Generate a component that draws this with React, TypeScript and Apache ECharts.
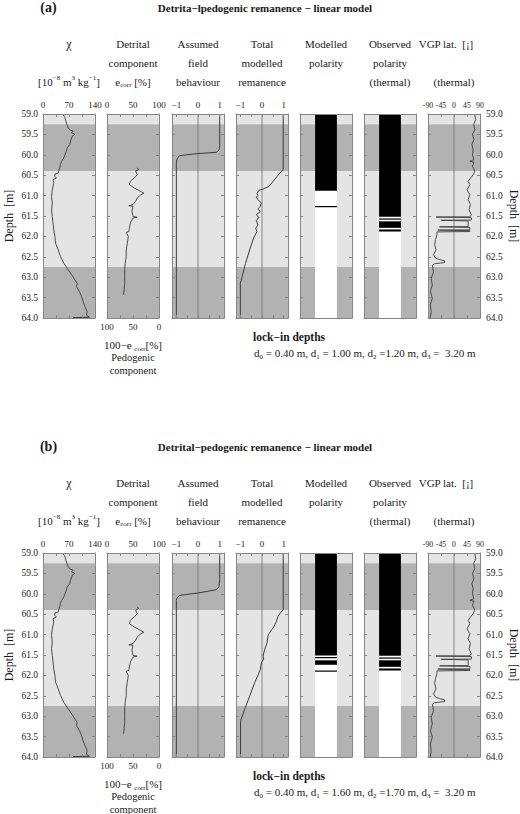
import { useEffect, useRef } from "react";
import * as echarts from "echarts";

// ── Data: profiles are [value, depth (m)] pairs ──────────────────────────────
const CHI = [
  [54, 59.01], [59, 59.09], [63, 59.22], [68, 59.34], [74, 59.4], [81, 59.42], [77, 59.46],
  [86, 59.5], [79, 59.54], [77, 59.59], [74, 59.67], [72, 59.75], [65, 59.83], [63, 59.91],
  [59, 60.0], [56, 60.08], [50, 60.16], [47, 60.24], [45, 60.32], [42, 60.4], [41, 60.45],
  [32, 60.47], [32, 60.53], [36, 60.57], [27, 60.61], [29, 60.69], [25, 60.86], [23, 61.02],
  [25, 61.18], [23, 61.35], [25, 61.51], [27, 61.67], [29, 61.84], [32, 62.0], [34, 62.17],
  [41, 62.33], [47, 62.49], [56, 62.66], [68, 62.82], [77, 62.94], [86, 63.07], [92, 63.15],
  [90, 63.23], [98, 63.35], [104, 63.48], [108, 63.6], [113, 63.72], [119, 63.85], [117, 63.93],
  [125, 63.98], [81, 63.99], [125, 64.0],
];

const DETRITAL = [
  [58, 60.32], [61, 60.36], [55, 60.4], [58, 60.49], [52, 60.57], [45, 60.65], [43, 60.73],
  [52, 60.81], [65, 60.9], [71, 60.94], [65, 60.98], [58, 61.06], [55, 61.14], [50, 61.22],
  [42, 61.25], [50, 61.26], [48, 61.39], [50, 61.51], [58, 61.53], [50, 61.55], [45, 61.67],
  [43, 61.8], [42, 61.88], [37, 61.9], [41, 62.0], [39, 62.17], [37, 62.33], [37, 62.49],
  [35, 62.66], [34, 62.82], [34, 62.98], [34, 63.15], [33, 63.31], [32, 63.43],
];

const FIELD_A = [
  [1, 59.0], [1, 59.78], [0.97, 59.88], [0.85, 59.94], [0, 59.97], [-0.85, 60.02],
  [-0.97, 60.1], [-1, 60.2], [-1, 64.0],
];
const FIELD_B = [
  [1, 59.0], [1, 59.65], [0.97, 59.82], [0.85, 59.9], [0, 59.98], [-0.85, 60.04],
  [-0.97, 60.1], [-1, 60.16], [-1, 64.0],
];

const TOTAL_A = [
  [0.98, 59.0], [0.98, 60.36], [0.9, 60.4], [0.82, 60.45], [0.7, 60.53], [0.51, 60.65],
  [0.39, 60.73], [0.33, 60.77], [0.05, 60.84], [-0.14, 60.87], [-0.23, 60.94], [-0.19, 61.0],
  [-0.26, 61.04], [-0.19, 61.1], [-0.03, 61.18], [-0.08, 61.26], [-0.19, 61.33], [-0.08, 61.39],
  [-0.26, 61.47], [-0.14, 61.53], [-0.26, 61.61], [-0.19, 61.72], [-0.29, 61.8], [-0.23, 61.88],
  [-0.29, 61.94], [-0.39, 62.04], [-0.57, 62.33], [-0.76, 62.66], [-0.91, 62.98], [-1.0, 63.15],
  [-1.0, 64.0],
];
const TOTAL_B = [
  [0.98, 59.0], [0.98, 60.39], [0.85, 60.47], [0.74, 60.55], [0.67, 60.67], [0.6, 60.75],
  [0.51, 60.84], [0.39, 60.92], [0.3, 61.0], [0.28, 61.04], [0.23, 61.2], [0.18, 61.28],
  [0.12, 61.37], [0.05, 61.53], [0.08, 61.6], [-0.03, 61.69], [-0.08, 61.85], [-0.14, 61.94],
  [-0.34, 62.18], [-0.57, 62.51], [-0.8, 62.83], [-0.99, 63.12], [-0.99, 64.0],
];

const VGP = [
  [72, 59.01], [75, 59.14], [68, 59.26], [72, 59.38], [64, 59.5], [69, 59.63], [62, 59.75],
  [66, 59.87], [64, 60.0], [69, 60.12], [55, 60.16], [69, 60.18], [64, 60.28], [72, 60.4],
  [66, 60.49], [57, 60.57], [49, 60.65], [55, 60.73], [45, 60.86], [55, 60.98], [49, 61.1],
  [57, 61.22], [52, 61.35], [60, 61.47], [55, 61.52], [-62, 61.525], [-62, 61.535], [60, 61.54],
  [60, 61.6], [-44, 61.605], [-44, 61.615], [49, 61.62], [49, 61.76], [-50, 61.765],
  [-50, 61.775], [55, 61.78], [55, 61.84], [-56, 61.845], [-56, 61.855], [55, 61.86],
  [55, 61.88], [-59, 61.89], [-59, 61.96], [-64, 62.08], [-67, 62.2], [-62, 62.33],
  [-71, 62.45], [-64, 62.53], [-50, 62.57], [-32, 62.6], [-32, 62.64], [-67, 62.67],
  [-75, 62.71], [-71, 62.87], [-79, 63.03], [-75, 63.19], [-82, 63.35], [-75, 63.51],
  [-82, 63.68], [-79, 63.84], [-82, 64.0],
];

// normal-polarity intervals [top, bottom] in m
const OBSERVED_NORMAL = [[59.0, 61.52], [61.56, 61.59], [61.63, 61.79], [61.83, 61.88]];
const MODELLED_NORMAL_A = [[59.0, 60.88], [61.255, 61.285]];
const MODELLED_NORMAL_B = [[59.0, 61.51], [61.55, 61.58], [61.63, 61.74], [61.88, 61.91]];
const FULL_DEPTH = [[59.0, 64.0]];

// stratigraphic units [top, bottom, shade 0 light / 1 dark]
const BANDS = [[59.0, 59.25, 0], [59.25, 60.4, 1], [60.4, 62.75, 0], [62.75, 64.0, 1]];
const ZERO_LINE = [[0, 59.0], [0, 64.0]];

const LOCK_IN_A = ["0.40", "1.00", "1.20", "3.20"];
const LOCK_IN_B = ["0.40", "1.60", "1.70", "3.20"];

// ── Layout / style ────────────────────────────────────────────────────────────
const FONT = "'Liberation Serif', 'DejaVu Serif', serif";
const BAND_COLORS = ["#e4e4e4", "#b2b2b2"];
const FRAME = "#858585";
const INK = "#1a1a1a";
const CURVE = "#3c3c3c";
const COL_LEFT = [43, 107, 172, 236, 300, 364, 428];
const COL_W = 52;
const PLOT_H = 204;
const SHIFT = 439;

// sign: minus glyph for the tick labels (VGP uses the narrower hyphen, labels are tight)
const COLS = [
  { min: 0, max: 140, ticks: [0, 35, 70, 105, 140], labels: [0, 70, 140], fs: 9, sign: "\u2212" },
  { min: 0, max: 100, ticks: [0, 25, 50, 75, 100], labels: [0, 50, 100], fs: 9, sign: "\u2212" },
  { min: -1.2, max: 1.2, ticks: [-1, -0.5, 0, 0.5, 1], labels: [-1, 0, 1], fs: 9, sign: "\u2212" },
  { min: -1.2, max: 1.2, ticks: [-1, -0.5, 0, 0.5, 1], labels: [-1, 0, 1], fs: 9, sign: "\u2212" },
  { min: 0, max: 1, ticks: null, labels: null, fs: 9, sign: "\u2212" },
  { min: 0, max: 1, ticks: null, labels: null, fs: 9, sign: "\u2212" },
  { min: -90, max: 90, ticks: [-90, -45, 0, 45, 90], labels: [-90, -45, 0, 45, 90], fs: 7.8, sign: "-" },
];

const RICH = {
  a: { fontSize: 11, fontFamily: FONT, fill: INK, lineHeight: 14 },
  sup: { fontSize: 7, fontFamily: FONT, fill: INK, verticalAlign: "top" },
  sub: { fontSize: 7, fontFamily: FONT, fill: INK, verticalAlign: "bottom" },
};

function txt(x: number, y: number, text: string, extra: any = {}) {
  return {
    type: "text",
    x,
    y,
    rotation: extra.rotation ?? 0,
    silent: true,
    style: {
      text,
      fontSize: extra.fontSize ?? 11,
      fontWeight: extra.fontWeight ?? "normal",
      fontFamily: FONT,
      fill: INK,
      align: extra.align ?? "center",
      verticalAlign: "middle",
      rich: extra.rich ? RICH : undefined,
    },
  };
}

function rectSeries(xi: number, data: number[][], x0: number, x1: number, fill: string | null, z: number) {
  return {
    type: "custom",
    xAxisIndex: xi,
    yAxisIndex: xi,
    silent: true,
    z,
    data,
    renderItem: (_p: any, api: any) => {
      const a = api.coord([x0, api.value(0)]);
      const b = api.coord([x1, api.value(1)]);
      return {
        type: "rect",
        shape: { x: a[0], y: a[1], width: b[0] - a[0], height: b[1] - a[1] },
        style: { fill: fill ?? BAND_COLORS[api.value(2)] },
      };
    },
  };
}

function lineSeries(xi: number, data: number[][], color: string, width: number, z: number) {
  return {
    type: "line",
    xAxisIndex: xi,
    yAxisIndex: xi,
    data,
    showSymbol: false,
    symbol: "none",
    silent: true,
    z,
    lineStyle: { color, width },
  };
}

function buildOption() {
  const grid: any[] = [];
  const xAxis: any[] = [];
  const yAxis: any[] = [];
  const series: any[] = [];
  const graphic: any[] = [];

  const panels = [
    { tag: "(a)", title: "Detrita\u2212lpedogenic remanence \u2212 linear model", field: FIELD_A, total: TOTAL_A, modelled: MODELLED_NORMAL_A, lock: LOCK_IN_A },
    { tag: "(b)", title: "Detrital\u2212pedogenic remanence \u2212 linear model", field: FIELD_B, total: TOTAL_B, modelled: MODELLED_NORMAL_B, lock: LOCK_IN_B },
  ];

  panels.forEach((panel, p) => {
    const dy = p * SHIFT;
    const top = 114 + dy;
    COLS.forEach((col, c) => {
      const gi = p * 7 + c;
      const xi = gi * 2;
      grid.push({ left: COL_LEFT[c], top, width: COL_W, height: PLOT_H });
      // onZero off: frames stay on the plot edges
      const line = { show: true, onZero: false, lineStyle: { color: FRAME, width: 1 } };
      const tick = (vals: number[] | null) => ({
        show: !!vals, inside: true, length: 3, customValues: vals ?? undefined,
        lineStyle: { color: FRAME, width: 1 },
      });
      xAxis.push({
        gridIndex: gi, type: "value", position: "top", min: col.min, max: col.max, z: 10,
        axisLine: line, axisTick: tick(col.ticks), splitLine: { show: false },
        axisLabel: {
          show: !!col.labels, customValues: col.labels ?? undefined, margin: 5,
          showMinLabel: true, showMaxLabel: true, hideOverlap: false,
          fontSize: col.fs, fontFamily: FONT, color: INK,
          formatter: (v: number) => (v < 0 ? col.sign + Math.abs(v) : String(v)),
        },
      });
      xAxis.push({
        gridIndex: gi, type: "value", position: "bottom", min: col.min, max: col.max, z: 10,
        axisLine: line, axisTick: tick(col.ticks), splitLine: { show: false },
        axisLabel: {
          show: c === 1, customValues: c === 1 ? col.labels : undefined, margin: 4,
          showMinLabel: true, showMaxLabel: true,
          fontSize: 9, fontFamily: FONT, color: INK, formatter: (v: number) => String(100 - v),
        },
      });
      const yBase = {
        gridIndex: gi, type: "value", inverse: true, min: 59, max: 64, interval: 0.5, z: 10,
        axisLine: line, splitLine: { show: false },
        axisTick: { show: true, inside: true, length: 3, lineStyle: { color: FRAME, width: 1 } },
      };
      yAxis.push({
        ...yBase, position: "left",
        axisLabel: {
          show: c === 0, margin: 5, fontSize: 9.5, fontFamily: FONT, color: INK,
          showMinLabel: true, showMaxLabel: true, formatter: (v: number) => v.toFixed(1),
        },
      });
      yAxis.push({
        ...yBase, position: "right",
        axisLabel: {
          show: c === 6, margin: 6, fontSize: 9.5, fontFamily: FONT, color: INK,
          showMinLabel: true, showMaxLabel: true, formatter: (v: number) => v.toFixed(1),
        },
      });

      series.push(rectSeries(xi, BANDS, col.min, col.max, null, 1));
      if (c === 0) series.push(lineSeries(xi, CHI, CURVE, 0.9, 4));
      if (c === 1) series.push(lineSeries(xi, DETRITAL, CURVE, 0.9, 4));
      if (c === 2) {
        series.push(lineSeries(xi, ZERO_LINE, "#707070", 0.8, 3));
        series.push(lineSeries(xi, panel.field, CURVE, 1, 4));
      }
      if (c === 3) {
        series.push(lineSeries(xi, ZERO_LINE, "#707070", 0.8, 3));
        series.push(lineSeries(xi, panel.total, CURVE, 1, 4));
      }
      if (c === 4 || c === 5) {
        series.push(rectSeries(xi, FULL_DEPTH, 0.29, 0.71, "#ffffff", 2));
        series.push(rectSeries(xi, c === 4 ? panel.modelled : OBSERVED_NORMAL, 0.29, 0.71, "#000000", 3));
      }
      if (c === 6) {
        series.push(lineSeries(xi, ZERO_LINE, "#707070", 0.8, 3));
        series.push(lineSeries(xi, VGP, CURVE, 0.9, 4));
      }
    });

    // titles & headers
    graphic.push(txt(48.5, 7.5 + dy, panel.tag, { fontSize: 14, fontWeight: "bold" }));
    graphic.push(txt(265, 7.5 + dy, panel.title, { fontSize: 11, fontWeight: "bold" }));
    const r1 = 43.5 + dy, r2 = 62.5 + dy, r3 = 81.5 + dy;
    const cx = COL_LEFT.map((l) => l + COL_W / 2);
    graphic.push(txt(cx[0], r1, "\u03c7", { fontSize: 12 }));
    graphic.push(txt(cx[0], r3, "{a|[10}{sup|\u22128}{a| m}{sup|3}{a| kg}{sup|\u22121}{a|]}", { rich: true }));
    graphic.push(txt(cx[1], r1, "Detrital"));
    graphic.push(txt(cx[1], r2, "component"));
    graphic.push(txt(cx[1], r3, "{a|e}{sub|corr}{a| [%]}", { rich: true }));
    graphic.push(txt(cx[2], r1, "Assumed"));
    graphic.push(txt(cx[2], r2, "field"));
    graphic.push(txt(cx[2], r3, "behaviour"));
    graphic.push(txt(cx[3], r1, "Total"));
    graphic.push(txt(cx[3], r2, "modelled"));
    graphic.push(txt(cx[3], r3, "remanence"));
    graphic.push(txt(cx[4], r1, "Modelled"));
    graphic.push(txt(cx[4], r2, "polarity"));
    graphic.push(txt(cx[5], r1, "Observed"));
    graphic.push(txt(cx[5], r2, "polarity"));
    graphic.push(txt(cx[5], r3, "(thermal)"));
    graphic.push(txt(446, r1, "VGP lat.  [\u00a1]"));
    graphic.push(txt(cx[6], r3, "(thermal)"));

    // depth axis titles
    graphic.push(txt(9, 216 + dy, "Depth  [m]", { fontSize: 12, rotation: Math.PI / 2 }));
    graphic.push(txt(514, 216 + dy, "Depth  [m]", { fontSize: 12, rotation: -Math.PI / 2 }));

    // unit labels
    graphic.push(txt(81.5, 155 + dy, "S7", { fontSize: 13 }));
    graphic.push(txt(81, 236 + dy, "L8", { fontSize: 13 }));
    graphic.push(txt(59, 297 + dy, "S8", { fontSize: 13 }));

    // pedogenic axis caption
    graphic.push(txt(cx[1], 345 + dy, "{a|100\u2212e }{sub|corr}{a|[%]}", { rich: true }));
    graphic.push(txt(cx[1], 357.5 + dy, "Pedogenic", { fontSize: 10.5 }));
    graphic.push(txt(cx[1], 370 + dy, "component", { fontSize: 10.5 }));

    // lock-in depths
    graphic.push(txt(253, 337 + dy, "lock\u2212in depths", { fontSize: 11.5, fontWeight: "bold", align: "left" }));
    const d = panel.lock;
    graphic.push(txt(254, 353 + dy,
      `{a|d}{sub|0}{a| = ${d[0]} m, d}{sub|1}{a| = ${d[1]} m, d}{sub|2}{a| =${d[2]} m, d}{sub|3}{a| =  ${d[3]} m}`,
      { rich: true, align: "left" }));
  });

  return { animation: false, backgroundColor: "#ffffff", grid, xAxis, yAxis, series, graphic };
}

export default function App() {
  const ref = useRef<HTMLDivElement>(null);

  useEffect(() => {
    const el = ref.current;
    if (!el) return;
    const chart = echarts.init(el, null, { renderer: "svg" });
    chart.setOption(buildOption());
    return () => chart.dispose();
  }, []);

  return (
    <div
      ref={ref}
      style={{ position: "fixed", left: 0, top: 0, width: 520, height: 814, background: "#fff" }}
    />
  );
}
